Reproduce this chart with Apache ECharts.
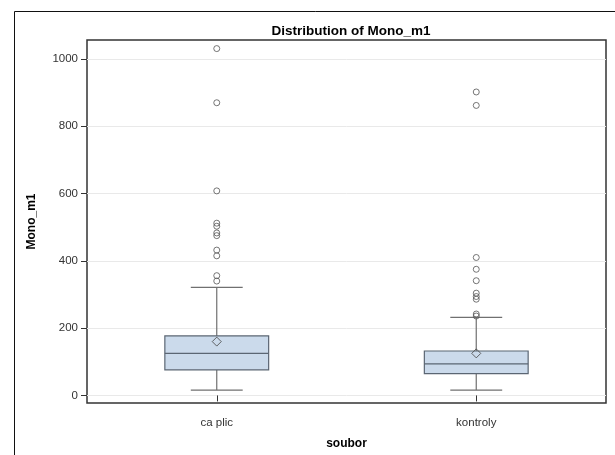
<!DOCTYPE html>
<html>
<head>
<meta charset="utf-8">
<script src="https://cdn.jsdelivr.net/npm/echarts@6/dist/echarts.min.js"></script>
<style>html,body{margin:0;padding:0;background:#fff}#c{width:615px;height:455px}</style>
</head>
<body>
<div id="c"></div>
<script>
var categories = ['ca plic', 'kontroly'];
var whiskerLow = [16, 16];
var q1 = [76, 65];
var median = [125, 94];
var q3 = [177, 132];
var whiskerHigh = [321, 232];
var means = [160, 125];
var outliersCaPlic = [1031, 870, 608, 512, 503, 483, 475, 432, 415, 356, 340];
var outliersKontroly = [902, 862, 410, 375, 341, 304, 294, 286, 242, 236];
var yTicks = [0, 200, 400, 600, 800, 1000];

var FONT = '"Liberation Sans", Arial, sans-serif';
var boxData = categories.map(function (c, i) {
  return [i, whiskerLow[i], q1[i], median[i], q3[i], whiskerHigh[i]];
});
var meanData = categories.map(function (c, i) { return [i, means[i]]; });
var outlierData = []
  .concat(outliersCaPlic.map(function (v) { return [0, v]; }))
  .concat(outliersKontroly.map(function (v) { return [1, v]; }));

var chart = echarts.init(document.getElementById('c'), null, { renderer: 'canvas' });
chart.setOption({
  animation: false,
  backgroundColor: '#fff',
  title: {
    text: 'Distribution of Mono_m1',
    left: 346, top: 19, textAlign: 'center',
    textStyle: { fontFamily: FONT, fontSize: 13.5, fontWeight: 'bold', color: '#000' }
  },
  graphic: [{
    type: 'rect', left: 12, top: 9, silent: true,
    shape: { width: 601.5, height: 470 },
    style: { fill: 'none', stroke: '#111', lineWidth: 1 }
  }],
  grid: {
    left: 87, top: 40, right: 9, bottom: 51.5,
    show: true, borderColor: '#333', borderWidth: 1.5, backgroundColor: 'transparent'
  },
  xAxis: {
    type: 'category', data: categories, boundaryGap: true,
    name: 'soubor', nameLocation: 'middle', nameGap: 35,
    nameTextStyle: { fontFamily: FONT, fontSize: 12, fontWeight: 'bold', color: '#000' },
    axisLine: { show: false },
    axisTick: { show: true, alignWithLabel: true, length: 6, lineStyle: { color: '#333' } },
    axisLabel: { fontFamily: FONT, fontSize: 11.5, color: '#333', margin: 14 },
    splitLine: { show: false }
  },
  yAxis: {
    type: 'value', min: -22.5, max: 1056.5,
    name: 'Mono_m1', nameLocation: 'middle', nameGap: 49,
    nameTextStyle: { fontFamily: FONT, fontSize: 12, fontWeight: 'bold', color: '#000' },
    axisLine: { show: false },
    axisTick: { show: true, length: 6, customValues: yTicks, lineStyle: { color: '#333' } },
    axisLabel: { fontFamily: FONT, fontSize: 11.5, color: '#333', margin: 9, customValues: yTicks,
      formatter: function (v) { return String(v); } },
    splitLine: { show: true, lineStyle: { color: '#e9e9e9', width: 1 } }
  },
  series: [{
    type: 'custom',
    data: boxData,
    encode: { x: 0, y: [1, 2, 3, 4, 5] },
    z: 2,
    renderItem: function (params, api) {
      var i = api.value(0);
      var lo = api.coord([i, api.value(1)]);
      var a = api.coord([i, api.value(2)]);
      var m = api.coord([i, api.value(3)]);
      var b = api.coord([i, api.value(4)]);
      var hi = api.coord([i, api.value(5)]);
      var band = api.size([1, 0])[0];
      var bw = band * 0.4, cw = band * 0.2;
      var x = lo[0];
      var wStyle = { stroke: '#707070', lineWidth: 1.2, fill: 'none' };
      var bStyle = { stroke: '#5b6673', lineWidth: 1.2 };
      return {
        type: 'group',
        children: [
          { type: 'line', shape: { x1: x, y1: hi[1], x2: x, y2: b[1] }, style: wStyle },
          { type: 'line', shape: { x1: x, y1: a[1], x2: x, y2: lo[1] }, style: wStyle },
          { type: 'line', shape: { x1: x - cw / 2, y1: hi[1], x2: x + cw / 2, y2: hi[1] }, style: wStyle },
          { type: 'line', shape: { x1: x - cw / 2, y1: lo[1], x2: x + cw / 2, y2: lo[1] }, style: wStyle },
          { type: 'rect', shape: { x: x - bw / 2, y: b[1], width: bw, height: a[1] - b[1] },
            style: { fill: '#cbdaeb', stroke: '#5b6673', lineWidth: 1.2 } },
          { type: 'line', shape: { x1: x - bw / 2, y1: m[1], x2: x + bw / 2, y2: m[1] }, style: bStyle }
        ]
      };
    }
  }, {
    type: 'scatter', data: meanData, z: 3,
    symbol: 'diamond', symbolSize: [9, 9],
    itemStyle: { color: 'rgba(0,0,0,0)', borderColor: '#444', borderWidth: 1 }
  }, {
    type: 'scatter', data: outlierData, z: 3,
    symbol: 'circle', symbolSize: 6,
    itemStyle: { color: 'rgba(0,0,0,0)', borderColor: '#555', borderWidth: 1 }
  }]
});
</script>
</body>
</html>
